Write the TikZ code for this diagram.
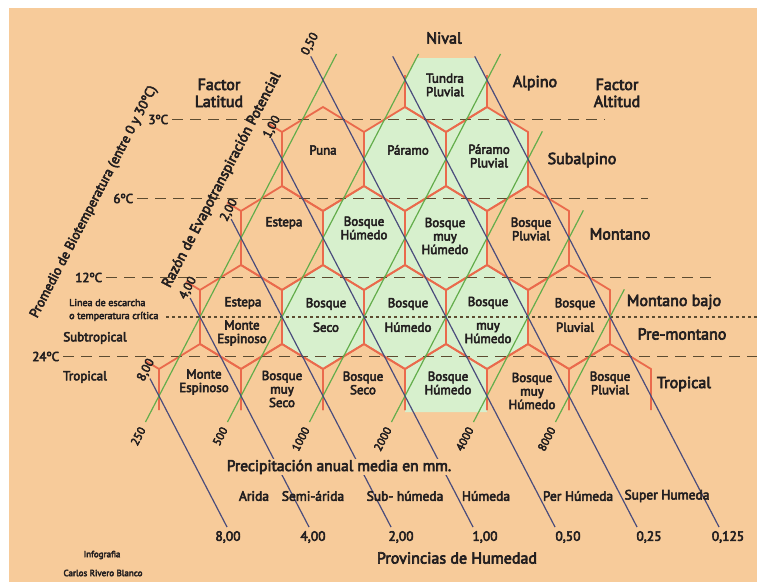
\documentclass[tikz,border=0pt]{standalone}
\usepackage{fontspec}
\setmainfont{PT Sans}[FakeBold=4]
\definecolor{fondo}{HTML}{F7CB9A}
\definecolor{verdeclaro}{HTML}{D7F0CD}
\definecolor{rojohex}{HTML}{EA6A4C}
\definecolor{verdelinea}{HTML}{63AD4B}
\definecolor{azullinea}{HTML}{4A4C7C}
\definecolor{marron}{HTML}{5C4B30}
\definecolor{texto}{HTML}{231F20}

\begin{document}
\begin{tikzpicture}[x=1pt,y=-1pt,
    hexborde/.style={draw=rojohex, line width=1.8pt},
    relleno/.style={fill=verdeclaro},
    precip/.style={verdelinea, line width=1.2pt},
    razon/.style={azullinea, line width=1.2pt},
    isoterma/.style={marron, line width=1.8pt, dash pattern=on 11pt off 7pt},
    escarcha/.style={marron, line width=1.5pt, dash pattern=on 3pt off 3pt},
    zona/.style={text=texto, align=center, inner sep=0pt, font=\fontsize{13}{13.5}\selectfont},
    piso/.style={text=texto, align=center, inner sep=0pt, font=\fontsize{16}{17}\selectfont},
    temp/.style={text=texto, inner sep=3pt, font=\fontsize{13}{14}\selectfont},
    numero/.style={text=texto, inner sep=0pt, font=\fontsize{11.5}{12}\selectfont},
    provincia/.style={text=texto, inner sep=0pt, font=\fontsize{13.5}{14}\selectfont}]

	% Fondo
	\useasboundingbox (0,0) rectangle (757,582);
	\fill[white] (0,0) rectangle (757,582);
	\fill[fondo] (9,8) rectangle (757,582);

	% Hexagonos verdes
	\fill[relleno] (405,107) -- (405,80) -- (417,58) -- (477,58) -- (487,80) -- (487,107) -- (446,132) -- cycle;
	\foreach \cx/\cy in {405/159,487/159,364/238,446/238,323/317,405/317,487/317}
		\fill[relleno] (\cx,\cy) ++(0,-52) -- ++(41,25) -- ++(0,54) -- ++(-41,25) -- ++(-41,-25) -- ++(0,-54) -- cycle;
	\fill[relleno] (405,412) -- (405,369) -- (446,344) -- (487,369) -- (487,412) -- cycle;

	% Bordes de los hexagonos
	\draw[hexborde] (405,75) -- (405,107) -- (446,132) -- (487,107) -- (487,75);
	\foreach \cy/\fila in {159/{323,405,487}, 238/{282,364,446,528}, 317/{241,323,405,487,569}}
		\foreach \cx in \fila
			\draw[hexborde] (\cx,\cy) ++(0,-52) -- ++(41,25) -- ++(0,54) -- ++(-41,25) -- ++(-41,-25) -- ++(0,-54) -- cycle;
	\foreach \cx in {200,282,364,446,528,610}
		\draw[hexborde] (\cx-41,410) -- (\cx-41,369) -- (\cx,344) -- (\cx+41,369) -- (\cx+41,410);
	\foreach \x/\y in {282/132,241/211,200/290,159/369}
		\draw[hexborde] (\x,\y) -- ++(-14,-8.5);

	% Isotermas
	\draw[isoterma] (172,119.5) node[temp, anchor=east] (t3) {3ºC} -- (605,119.5);
	\draw[isoterma] (137,198.5) node[temp, anchor=east] (t6) {6ºC} -- (648,198.5);
	\draw[isoterma] (106,277.5) node[temp, anchor=east] (t12) {12ºC} -- (715,277.5);
	\draw[escarcha] (166,317) -- (757,317);
	\draw[isoterma] (63,356.5) node[temp, anchor=east] (t24) {24ºC} -- (757,356.5);

	% Precipitacion (verde) y razon de evapotranspiracion (azul)
	\foreach \g/\rt/\mm in {0/4.33/250,1/4.33/500,2/4.33/1000,3/3.35/2000,4/2.35/4000,5/1.35/8000}
		\draw[precip] ({145.5+82*\g},422) node[numero, rotate=62.5, anchor=east, inner sep=6pt] (p\g) {\mm} -- ({159+82*\g+41*\rt},{396-79*\rt});
	\foreach \b/\rt in {0/0.22,1/1.24,2/2.24,3/3.26,4/4.3,5/4.3,6/4.3}
		\draw[razon] ({159+82*\b-41*\rt},{396-79*\rt}) coordinate (r\b) -- ({227+82*\b},527) coordinate (rb\b);

	\node[numero, rotate=62.5, font=\fontsize{12.5}{13}\selectfont] (e8) at (146,370) {8,00};
	\node[numero, rotate=62.5, font=\fontsize{12.5}{13}\selectfont] (e4) at (188,288) {4,00};
	\node[numero, rotate=62.5, font=\fontsize{12.5}{13}\selectfont] (e2) at (229,210) {2,00};
	\node[numero, rotate=62.5, font=\fontsize{12.5}{13}\selectfont] (e1) at (272,127) {1,00};
	\node[numero, rotate=62.5, font=\fontsize{12.5}{13}\selectfont] (e05) at (310,44) {0,50};

	% Zonas de vida
	\node[zona] (tundra) at (445,85) {Tundra\\Pluvial};
	\node[zona] (puna) at (323,150) {Puna};
	\node[zona] (paramo) at (408,150) {Páramo};
	\node[zona] (paramop) at (489,156) {Páramo\\Pluvial};
	\node[zona] (estepa1) at (284,223) {Estepa};
	\node[zona] (bh1) at (364,228) {Bosque\\Húmedo};
	\node[zona] (bmh1) at (445,236) {Bosque\\muy\\Húmedo};
	\node[zona] (bp1) at (531,229) {Bosque\\Pluvial};
	\node[zona] (estepa2) at (243,303) {Estepa};
	\node[zona] (me2) at (242,333) {Monte\\Espinoso};
	\node[zona] (bs2) at (326,315) {Bosque\\[11pt]Seco};
	\node[zona] (bh2) at (408,315) {Bosque\\[11pt]Húmedo};
	\node[zona] (bmh2) at (488,320) {Bosque\\[10pt]muy\\Húmedo};
	\node[zona] (bp2) at (575,315) {Bosque\\[11pt]Pluvial};
	\node[zona] (me3) at (204,382) {Monte\\Espinoso};
	\node[zona] (bms3) at (282,389) {Bosque\\muy\\Seco};
	\node[zona] (bs3) at (363,383) {Bosque\\Seco};
	\node[zona] (bh3) at (448,383) {Bosque\\Húmedo};
	\node[zona] (bmh3) at (532,391) {Bosque\\muy\\Húmedo};
	\node[zona] (bp3) at (610,383) {Bosque\\Pluvial};

	% Pisos altitudinales y regiones latitudinales
	\node[piso] (nival) at (444,38) {Nival};
	\node[piso] (alpino) at (535,83) {Alpino};
	\node[piso] (subalpino) at (582,160) {Subalpino};
	\node[piso] (montano) at (620,234) {Montano};
	\node[piso] (montanob) at (674,302) {Montano bajo};
	\node[piso] (premontano) at (682,334) {Pre-montano};
	\node[piso] (tropicald) at (684,384) {Tropical};
	\node[piso] (flat) at (219,93) {Factor\\Latitud};
	\node[piso] (falt) at (617,93) {Factor\\Altitud};
	\node[temp, inner sep=0pt] (subtrop) at (95,338) {Subtropical};
	\node[temp, inner sep=0pt] (tropicali) at (85,377) {Tropical};
	\node[numero, align=left, anchor=west, font=\fontsize{10}{13}\selectfont] (escarcha) at (69,310) {Linea de escarcha\\o temperatura crítica};

	% Ejes
	\node[temp, inner sep=0pt, rotate=62.5, font=\fontsize{13.5}{15}\selectfont] (biotemp) at (94,202) {Promedio de Biotemperatura (entre 0 y 30ºC)};
	\node[temp, inner sep=0pt, rotate=62.5, font=\fontsize{14.5}{15}\selectfont] (razonpot) at (222,180) {Razón de Evapotranspiración Potencial};
	\node[piso, fill=fondo, inner sep=1pt, font=\fontsize{15.5}{16}\selectfont] (precipit) at (339,467) {Precipitación anual media en mm.};

	% Provincias de humedad
	\node[provincia] (arida) at (254,496) {Arida};
	\node[provincia] (semiarida) at (313,496) {Semi-árida};
	\node[provincia] (subhumeda) at (405,496) {Sub- húmeda};
	\node[provincia] (humeda) at (486,496) {Húmeda};
	\node[provincia] (perhumeda) at (578,496) {Per Húmeda};
	\node[provincia] (superhumeda) at (667,496) {Super Humeda};
	\foreach \x/\v in {228/{8,00},313/{4,00},401/{2,00},485/{1,00},568/{0,50},649/{0,25},728/{0,125}}
		\node[provincia] at (\x,537) {\v};
	\node[piso] (provincias) at (457,558) {Provincias de Humedad};

	% Creditos
	\node[numero, font=\fontsize{9}{10}\selectfont] (info) at (102,555) {Infografia};
	\node[numero, font=\fontsize{9}{10}\selectfont] (autor) at (103,573) {Carlos Rivero Blanco};
\end{tikzpicture}
\end{document}
